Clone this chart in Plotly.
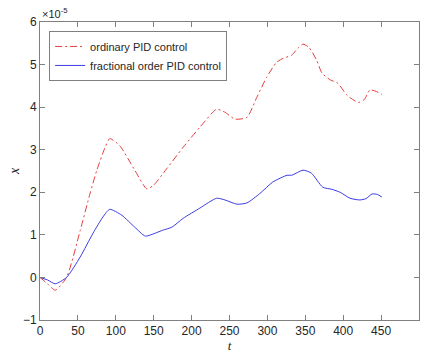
import plotly.graph_objects as go

# time samples (s) and responses (units of 1e-5)
t_ord = [0, 10, 20, 35, 53, 66, 75, 86, 92, 105, 125, 141, 150, 167, 189, 211, 233, 244, 257, 273, 286, 299, 312, 321, 332, 340, 347, 355, 365, 372, 383, 393, 405, 420, 428, 435, 442, 451]
x_ord = [0, -0.15, -0.3, 0.0, 1.1, 1.97, 2.52, 3.06, 3.26, 3.1, 2.52, 2.08, 2.17, 2.55, 3.06, 3.53, 3.95, 3.88, 3.72, 3.76, 4.23, 4.7, 5.05, 5.15, 5.22, 5.38, 5.48, 5.4, 5.1, 4.8, 4.64, 4.56, 4.28, 4.11, 4.18, 4.4, 4.38, 4.3]

t_frac = [0, 10, 20, 35, 53, 70, 83, 92, 108, 125, 139, 152, 162, 174, 189, 211, 233, 244, 260, 273, 290, 307, 326, 332, 347, 358, 373, 385, 396, 409, 422, 430, 438, 445, 451]
x_frac = [0, -0.06, -0.15, 0.0, 0.48, 1.04, 1.42, 1.6, 1.46, 1.18, 0.97, 1.04, 1.11, 1.18, 1.39, 1.63, 1.86, 1.82, 1.72, 1.75, 1.97, 2.24, 2.4, 2.4, 2.52, 2.45, 2.12, 2.07, 2.0, 1.86, 1.82, 1.85, 1.96, 1.95, 1.89]

x_ticks = [0, 50, 100, 150, 200, 250, 300, 350, 400, 450, 500]
y_ticks = [-1, 0, 1, 2, 3, 4, 5, 6]

fig = go.Figure()
fig.add_trace(go.Scatter(x=t_ord, y=x_ord, mode="lines", name="ordinary PID control",
                         line=dict(color="rgb(228,60,60)", width=1, dash="7px,3px,2px,3px", shape="spline", smoothing=0.6)))
fig.add_trace(go.Scatter(x=t_frac, y=x_frac, mode="lines", name="fractional order PID control",
                         line=dict(color="rgb(60,60,228)", width=1, shape="spline", smoothing=0.6)))

axis_common = dict(showgrid=False, zeroline=False, showline=True, linecolor="#808080", linewidth=1,
                   mirror="ticks", ticks="inside", ticklen=5, tickcolor="#808080",
                   tickfont=dict(family="Liberation Sans, Arial", size=12, color="#262626"))
fig.update_xaxes(range=[0, 500], tickvals=x_ticks, **axis_common,
                 title=dict(text="<i>t</i>", standoff=0,
                            font=dict(family="Liberation Serif, Times New Roman", size=13, color="#262626")))
fig.update_yaxes(range=[-1, 6], tickvals=y_ticks, **axis_common,
                 title=dict(text="<i>x</i>", standoff=0,
                            font=dict(family="Liberation Serif, Times New Roman", size=14, color="#262626")))

fig.update_layout(
    width=425, height=354, plot_bgcolor="white", paper_bgcolor="white",
    margin=dict(l=40, r=6, t=22, b=34, autoexpand=False),
    showlegend=True,
    legend=dict(x=0.024, y=0.97, xanchor="left", yanchor="top", bgcolor="white",
                bordercolor="#808080", borderwidth=1, tracegroupgap=0, itemwidth=30,
                font=dict(family="Liberation Sans, Arial", size=11, color="#262626")),
    annotations=[
        dict(text="×10<sup>-5</sup>", xref="paper", yref="paper", x=0.0, y=1.0, xanchor="left", yanchor="bottom",
             showarrow=False, font=dict(family="Liberation Sans, Arial", size=11, color="#262626")),
    ],
)

fig.write_html("out.html")
